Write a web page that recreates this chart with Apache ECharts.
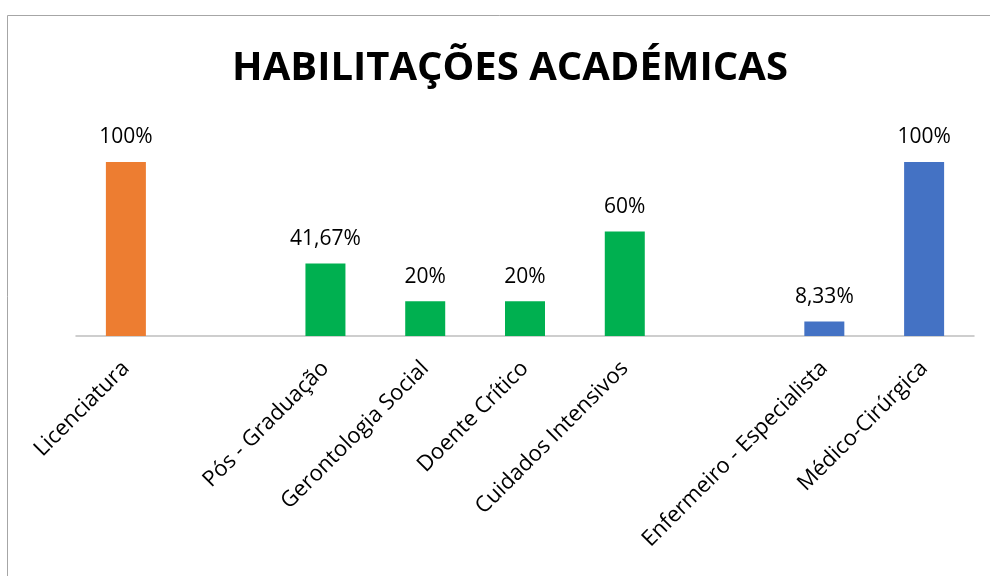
<!DOCTYPE html>
<html>
<head>
<meta charset="utf-8">
<script src="https://cdn.jsdelivr.net/npm/echarts@6/dist/echarts.min.js"></script>
<style>
  html, body { margin: 0; padding: 0; background: #fff; }
  #chart { width: 990px; height: 576px; }
</style>
</head>
<body>
<div id="chart"></div>
<script>
// categories ('' = empty gap slot, as in the original sheet)
var categories = ['Licenciatura', '', 'Pós - Graduação', 'Gerontologia Social', 'Doente Crítico',
  'Cuidados Intensivos', '', 'Enfermeiro - Especialista', 'Médico-Cirúrgica']
// values in %, split by colour group
var licenciatura = [100, '-', '-', '-', '-', '-', '-', '-', '-']
var posGraduacao = ['-', '-', 41.67, 20, 20, 60, '-', '-', '-']
var especialidade = ['-', '-', '-', '-', '-', '-', '-', 8.33, 100]

var chart = echarts.init(document.getElementById('chart'))

var fontFam = '"Open Sans", "Noto Sans", sans-serif'

function pct (p) {
  return String(p.value).replace('.', ',') + '%'
}

function makeSeries (name, data, color) {
  return {
    name: name,
    type: 'bar',
    stack: 'all',
    barWidth: 40,
    data: data,
    itemStyle: { color: color },
    label: {
      show: true,
      position: 'top',
      distance: 14,
      formatter: pct,
      color: '#000',
      fontSize: 21,
      fontFamily: fontFam
    }
  }
}

var option = {
  animation: false,
  title: {
    text: 'HABILITAÇÕES ACADÉMICAS',
    left: 505,
    top: 44,
    textAlign: 'center',
    textStyle: {
      fontSize: 40,
      fontWeight: 'bold',
      color: '#000',
      fontFamily: fontFam
    }
  },
  graphic: [{
    type: 'rect',
    shape: { x: 7.5, y: 15.5, width: 1000, height: 600 },
    style: { fill: 'none', stroke: '#a6a6a6', lineWidth: 1 },
    silent: true
  }],
  grid: { left: 76, right: 16, top: 162, bottom: 240 },
  xAxis: {
    type: 'category',
    data: categories,
    axisLine: { lineStyle: { color: '#bfbfbf', width: 1.5 } },
    axisTick: { show: false },
    axisLabel: {
      interval: 0,
      rotate: 45,
      margin: 29,
      color: '#000',
      fontSize: 22,
      fontFamily: fontFam
    }
  },
  yAxis: {
    type: 'value',
    min: 0,
    max: 100,
    show: false
  },
  series: [
    makeSeries('Licenciatura', licenciatura, '#ed7d31'),
    makeSeries('Pós-Graduação', posGraduacao, '#00b050'),
    makeSeries('Especialidade', especialidade, '#4472c4')
  ]
}

chart.setOption(option)
</script>
</body>
</html>
